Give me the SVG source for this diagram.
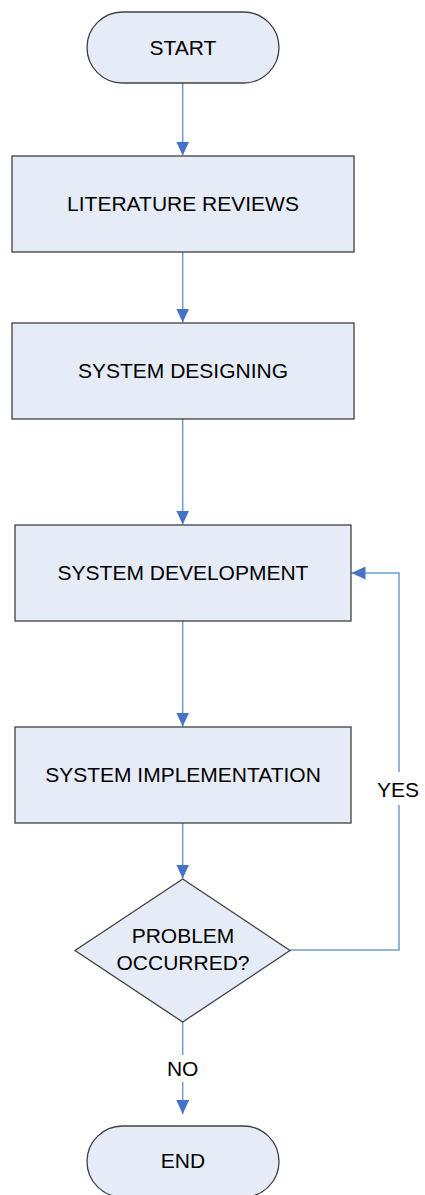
<svg xmlns="http://www.w3.org/2000/svg" width="425" height="1195" viewBox="0 0 425 1195">
<style>
.n{fill:#e6ecf7;stroke:#404040;stroke-width:1.3}
.t{font-family:"Liberation Sans",Arial,sans-serif;font-size:21px;fill:#000;text-anchor:middle}
.c{fill:none;stroke:#6f9cd8;stroke-width:1.5}
</style>
<defs>
<marker id="ah" markerWidth="14" markerHeight="13" refX="14" refY="6.5" orient="auto" markerUnits="userSpaceOnUse">
<path d="M0,0 L14,6.5 L0,13 Z" fill="#4472c4"/>
</marker>
</defs>
<rect width="425" height="1195" fill="#fff"/>
<g id="connectors">
<line class="c" x1="182.7" y1="83" x2="182.7" y2="155.5" marker-end="url(#ah)"/>
<line class="c" x1="182.7" y1="252" x2="182.7" y2="322.5" marker-end="url(#ah)"/>
<line class="c" x1="182.7" y1="419" x2="182.7" y2="524.5" marker-end="url(#ah)"/>
<line class="c" x1="182.7" y1="621" x2="182.7" y2="726.5" marker-end="url(#ah)"/>
<line class="c" x1="182.7" y1="823" x2="182.7" y2="878.5" marker-end="url(#ah)"/>
<line class="c" x1="182.7" y1="1022" x2="182.7" y2="1055"/>
<line class="c" x1="182.7" y1="1082" x2="182.7" y2="1114" marker-end="url(#ah)"/>
<polyline class="c" points="290,950 399,950 399,805"/>
<polyline class="c" points="399,772 399,573 351.5,573" marker-end="url(#ah)"/>
<text class="t" x="182.7" y="1076">NO</text>
<text class="t" x="398" y="797">YES</text>
</g>
<g id="start">
<rect class="n" x="87" y="12" width="192" height="71" rx="35.5" ry="35.5"/>
<text class="t" x="183" y="55">START</text>
</g>
<g id="literature">
<rect class="n" x="12" y="156" width="342" height="96"/>
<text class="t" x="183" y="211">LITERATURE REVIEWS</text>
</g>
<g id="designing">
<rect class="n" x="12" y="323" width="342" height="96"/>
<text class="t" x="183" y="378">SYSTEM DESIGNING</text>
</g>
<g id="development">
<rect class="n" x="15" y="525" width="336" height="96"/>
<text class="t" x="183" y="580">SYSTEM DEVELOPMENT</text>
</g>
<g id="implementation">
<rect class="n" x="15" y="727" width="336" height="96"/>
<text class="t" x="183" y="782">SYSTEM IMPLEMENTATION</text>
</g>
<g id="decision">
<polygon class="n" points="182.7,879 290,950.5 182.7,1022 75,950.5"/>
<text class="t" x="183" y="943">PROBLEM</text>
<text class="t" x="183" y="970">OCCURRED?</text>
</g>
<g id="end">
<rect class="n" x="87" y="1126" width="192" height="71" rx="35.5" ry="35.5"/>
<text class="t" x="183" y="1168">END</text>
</g>
</svg>
